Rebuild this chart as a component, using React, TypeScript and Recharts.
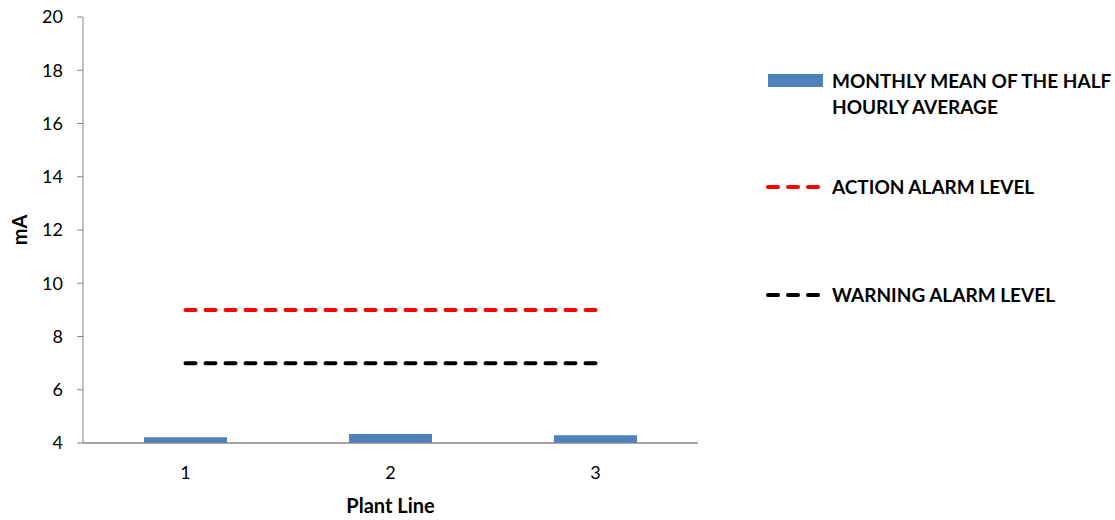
import React from 'react';
import { ComposedChart, Bar, Line, XAxis, YAxis, Legend } from 'recharts';

const categories = ['1', '2', '3'];
const meanValues = [4.22, 4.34, 4.29];
const actionLevel = [9, 9, 9];
const warningLevel = [7, 7, 7];
const yTicks = [4, 6, 8, 10, 12, 14, 16, 18, 20];
const meanName = 'MONTHLY MEAN OF THE HALF HOURLY AVERAGE';
const meanNameLines = ['MONTHLY MEAN OF THE HALF', 'HOURLY AVERAGE'];
const actionName = 'ACTION ALARM LEVEL';
const warningName = 'WARNING ALARM LEVEL';
const xTitle = 'Plant Line';
const yTitle = 'mA';

const data = categories.map((c, i) => ({
  plant: c,
  mean: meanValues[i],
  action: actionLevel[i],
  warning: warningLevel[i],
}));

const FONT = 'Lato, "Open Sans", sans-serif';
const AXIS = '#868686';
const BLUE = '#4F81BD';

const DashIcon = ({ color }: { color: string }) => (
  <svg width={56} height={8} style={{ position: 'absolute', left: 0, top: -4, overflow: 'visible' }}>
    <line x1={2} y1={4} x2={54} y2={4} stroke={color} strokeWidth={4} strokeDasharray="10 10" strokeLinecap="round" />
  </svg>
);

const renderLegend = () => {
  const text: React.CSSProperties = {
    position: 'absolute',
    left: 66,
    fontFamily: FONT,
    fontWeight: 700,
    fontSize: 19,
    color: '#000',
    lineHeight: '26px',
    whiteSpace: 'nowrap',
  };
  return (
    <div style={{ position: 'relative', width: 349, height: 260 }}>
      <div style={{ position: 'absolute', left: 2, top: 14, width: 55, height: 13, background: BLUE }} />
      <div style={{ ...text, top: 8 }} title={meanName}>
        {meanNameLines[0]}
        <br />
        {meanNameLines[1]}
      </div>
      <div style={{ position: 'absolute', left: 0, top: 127 }}>
        <DashIcon color="#FF0000" />
      </div>
      <div style={{ ...text, top: 114 }}>{actionName}</div>
      <div style={{ position: 'absolute', left: 0, top: 235 }}>
        <DashIcon color="#000000" />
      </div>
      <div style={{ ...text, top: 222 }}>{warningName}</div>
    </div>
  );
};

export default function App() {
  return (
    <div style={{ position: 'absolute', left: 0, top: 0, width: 1115, height: 520, background: '#fff' }}>
      <ComposedChart
        width={1115}
        height={520}
        data={data}
        margin={{ top: 17, right: 417, bottom: 0, left: 0 }}
      >
        <XAxis
          dataKey="plant"
          height={77}
          tickLine={false}
          tickSize={6}
          tickMargin={17}
          axisLine={{ stroke: AXIS, strokeWidth: 1.5 }}
          tick={{ fill: '#000', fontSize: 18, fontFamily: FONT }}
          label={{
            value: xTitle,
            position: 'insideBottom',
            offset: 7,
            style: { fill: '#000', fontSize: 20, fontWeight: 700, fontFamily: FONT },
          }}
        />
        <YAxis
          width={83}
          domain={[4, 20]}
          ticks={yTicks}
          interval={0}
          tickSize={6}
          tickMargin={14}
          axisLine={{ stroke: AXIS }}
          tickLine={{ stroke: AXIS }}
          tick={{ fill: '#000', fontSize: 18, fontFamily: FONT }}
          label={{
            value: yTitle,
            angle: -90,
            position: 'insideLeft',
            offset: 20,
            style: { fill: '#000', fontSize: 20, fontWeight: 700, fontFamily: FONT, textAnchor: 'middle' },
          }}
        />
        <Legend
          layout="horizontal"
          verticalAlign="middle"
          align="center"
          content={renderLegend}
          wrapperStyle={{ position: 'absolute', left: 766, top: 60, width: 349, height: 260 }}
        />
        <Bar dataKey="mean" name={meanName} fill={BLUE} barSize={83} isAnimationActive={false} />
        <Line
          dataKey="action"
          name={actionName}
          stroke="#FF0000"
          strokeWidth={4}
          strokeDasharray="10 10"
          strokeLinecap="round"
          dot={false}
          activeDot={false}
          isAnimationActive={false}
        />
        <Line
          dataKey="warning"
          name={warningName}
          stroke="#000000"
          strokeWidth={4}
          strokeDasharray="10 10"
          strokeLinecap="round"
          dot={false}
          activeDot={false}
          isAnimationActive={false}
        />
      </ComposedChart>
    </div>
  );
}
